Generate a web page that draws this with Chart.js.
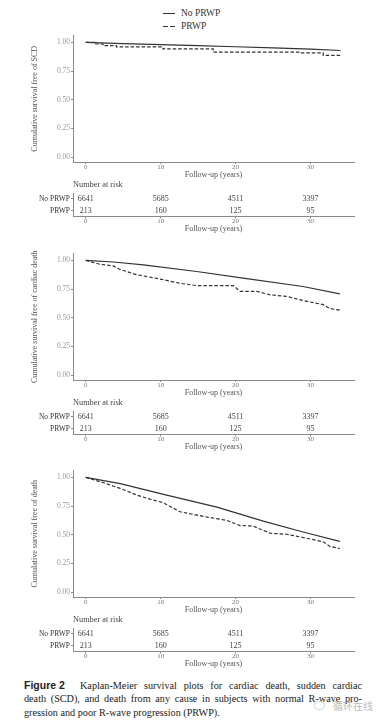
<!DOCTYPE html>
<html><head><meta charset="utf-8">
<script src="https://cdn.jsdelivr.net/npm/chart.js@4"></script>
<style>
html,body{margin:0;padding:0;background:#fff;}
body{width:380px;height:727px;position:relative;overflow:hidden;}
canvas{position:absolute;left:0;}
.lg{position:absolute;font:9.5px 'Liberation Serif',serif;color:#333;line-height:12px;white-space:nowrap;}
.ln{position:absolute;height:1.3px;background:#333;}
.cap{position:absolute;font:10.2px 'Liberation Serif',serif;color:#222;line-height:13.3px;white-space:nowrap;}
.just{text-align:justify;text-align-last:justify;white-space:normal;}
</style></head><body>
<div class="ln" style="left:163px;top:12.5px;width:12px"></div>
<div class="lg" style="left:181px;top:7px">No PRWP</div>
<div class="ln" style="left:163px;top:25.5px;width:4.5px"></div>
<div class="ln" style="left:170px;top:25.5px;width:5px"></div>
<div class="lg" style="left:181px;top:20px">PRWP</div>

<div class="cap" style="left:24px;top:679px;font:bold 10.5px 'Liberation Sans',Arial,sans-serif;line-height:13.3px">Figure 2</div>
<div class="cap just" style="left:80px;top:679px;width:282px">Kaplan-Meier survival plots for cardiac death, sudden cardiac</div>
<div class="cap just" style="left:24px;top:692.3px;width:338px">death (SCD), and death from any cause in subjects with normal R-wave pro-</div>
<div class="cap" style="left:24px;top:705.6px">gression and poor R-wave progression (PRWP).</div>
<div style="position:absolute;left:314px;top:701px;width:9px;height:7px;border:1px solid #ccc;border-radius:50%;opacity:.8"></div>
<div style="position:absolute;left:333px;top:699px;font:10px 'Noto Sans CJK SC',sans-serif;color:#bbb;line-height:13px">循环在线</div>

<script>
// ---- data ----
const groups = ['No PRWP', 'PRWP'];
const xTicks = [0, 10, 20, 30];
const yTicks = [0, 0.25, 0.5, 0.75, 1];
const yTitles = ['Cumulative survival free of SCD', 'Cumulative survival free of cardiac death', 'Cumulative survival free of death'];
const xTitle = 'Follow-up (years)';
const riskTitle = 'Number at risk';
const riskTimes = [0, 10, 20, 30];
const riskNo = [6641, 5685, 4511, 3397];
const riskPrwp = [213, 160, 125, 95];

// SCD
const scdNoT = [0, 5, 10, 15, 20, 25, 30, 34];
const scdNoS = [1, 0.99, 0.981, 0.971, 0.962, 0.952, 0.941, 0.929];
const scdPrT = [0, 1.2, 2.3, 4.1, 10.3, 17, 28.6, 31.7, 34];
const scdPrS = [1, 0.986, 0.972, 0.96, 0.943, 0.915, 0.909, 0.886, 0.886];
// cardiac death
const cdNoT = [0, 3.7, 7.7, 14.8, 21, 29, 33.9];
const cdNoS = [1, 0.986, 0.96, 0.903, 0.846, 0.772, 0.708];
const cdPrT = [0, 1.9, 3.7, 4.5, 6.8, 9.5, 12.6, 14.8, 19.7, 20.6, 22.8, 24.6, 26.8, 29, 31.7, 32.6, 33.9];
const cdPrS = [1, 0.966, 0.952, 0.923, 0.875, 0.843, 0.80, 0.78, 0.78, 0.73, 0.73, 0.70, 0.686, 0.65, 0.614, 0.58, 0.566];
// all-cause death
const acNoT = [0, 4.6, 10.8, 17.5, 23.7, 29, 33.9];
const acNoS = [1, 0.946, 0.846, 0.74, 0.618, 0.524, 0.442];
const acPrT = [0, 1, 2.3, 3.7, 4.6, 6.8, 8.6, 10.3, 12.6, 15.7, 18.8, 20.6, 22.3, 24.6, 26.8, 29, 31.7, 32.6, 33.9];
const acPrS = [1, 0.98, 0.955, 0.923, 0.904, 0.846, 0.81, 0.78, 0.70, 0.66, 0.625, 0.58, 0.576, 0.513, 0.504, 0.476, 0.438, 0.398, 0.38];

// ---- drawing ----
const SERIF = "'Liberation Serif','Times New Roman',serif";
const AX = '#8a8a8a';
const XMIN = -1.7, XMAX = 35.8, YMIN = -0.043, YMAX = 1.06;

function mkCanvas(top, h) {
  const c = document.createElement('canvas');
  c.width = 380; c.height = h;
  c.style.top = top + 'px'; c.style.width = '380px'; c.style.height = h + 'px';
  document.body.appendChild(c);
  return c;
}
const xy = (T, S) => T.map((t, i) => ({x: t, y: S[i]}));

function xScale(h, padB) {
  return {
    type: 'linear', min: XMIN, max: XMAX,
    afterBuildTicks: s => { s.ticks = xTicks.map(v => ({value: v})); },
    afterFit: s => { s.height = h; },
    border: {color: AX, width: 1},
    grid: {drawOnChartArea: false, drawTicks: true, tickLength: 2, color: AX},
    ticks: {padding: -0.5, color: '#777', font: {family: SERIF, size: 7, lineHeight: 1}, maxRotation: 0, autoSkip: false, callback: v => String(v)},
    title: {display: true, text: xTitle, color: '#555', font: {family: SERIF, size: 8}, padding: {top: 0, bottom: padB}}
  };
}

function panel(B, yTitle, noT, noS, prT, prS, prStepped) {
  new Chart(mkCanvas(B - 132, 150), {
    type: 'line',
    data: {datasets: [
      {label: groups[0], data: xy(noT, noS), borderColor: '#333', borderWidth: 1.2, pointRadius: 0, tension: 0},
      {label: groups[1], data: xy(prT, prS), borderColor: '#333', borderWidth: 1.2, borderDash: [3.5, 2], pointRadius: 0, tension: 0, stepped: prStepped}
    ]},
    options: {
      responsive: false, animation: false, events: [],
      layout: {padding: {top: 3, right: 26, left: 0, bottom: 0}},
      plugins: {legend: {display: false}, tooltip: {enabled: false}},
      scales: {
        x: xScale(18, 0.2),
        y: {
          type: 'linear', min: YMIN, max: YMAX,
          afterBuildTicks: s => { s.ticks = yTicks.map(v => ({value: v})); },
          afterFit: s => { s.width = 73; },
          border: {color: AX, width: 1},
          grid: {drawOnChartArea: false, drawTicks: true, tickLength: 2, color: AX},
          ticks: {padding: 1, color: '#999', font: {family: SERIF, size: 7.5}, autoSkip: false, callback: v => Number(v).toFixed(2)},
          title: {display: true, text: yTitle, color: '#555', font: {family: SERIF, size: 8}, padding: {top: 30.2, bottom: 0}}
        }
      }
    }
  });

  const riskText = {
    id: 'riskText',
    afterDatasetsDraw(chart) {
      const ctx = chart.ctx;
      ctx.save();
      ctx.font = '8px ' + SERIF;
      ctx.fillStyle = '#444';
      ctx.textAlign = 'center';
      ctx.textBaseline = 'middle';
      [riskNo, riskPrwp].forEach((vals, di) => {
        chart.getDatasetMeta(di).data.forEach((el, i) => ctx.fillText(String(vals[i]), el.x, el.y));
      });
      ctx.restore();
    }
  };
  new Chart(mkCanvas(B + 18, 55), {
    type: 'scatter',
    data: {datasets: [
      {label: groups[0], data: riskTimes.map(t => ({x: t, y: groups[0]})), pointRadius: 0},
      {label: groups[1], data: riskTimes.map(t => ({x: t, y: groups[1]})), pointRadius: 0}
    ]},
    options: {
      responsive: false, animation: false, events: [],
      layout: {padding: {top: 0, right: 26, left: 0, bottom: 0}},
      plugins: {
        legend: {display: false}, tooltip: {enabled: false},
        title: {display: true, text: riskTitle, align: 'start', fullSize: false, color: '#444',
                font: {family: SERIF, size: 8.3, weight: 'normal'}, padding: {top: 0, bottom: 3.04}}
      },
      scales: {
        x: xScale(18.5, 1.2),
        y: {
          type: 'category', labels: groups, offset: true,
          afterFit: s => { s.width = 73; },
          border: {color: AX, width: 1},
          grid: {drawOnChartArea: false, drawTicks: true, tickLength: 2, color: AX},
          ticks: {padding: 1, color: '#333', autoSkip: false, font: {family: SERIF, size: 7.5, lineHeight: 1}}
        }
      }
    },
    plugins: [riskText]
  });
}

panel(162, yTitles[0], scdNoT, scdNoS, scdPrT, scdPrS, true);
panel(379.5, yTitles[1], cdNoT, cdNoS, cdPrT, cdPrS, false);
panel(597, yTitles[2], acNoT, acNoS, acPrT, acPrS, false);
</script>
</body></html>
